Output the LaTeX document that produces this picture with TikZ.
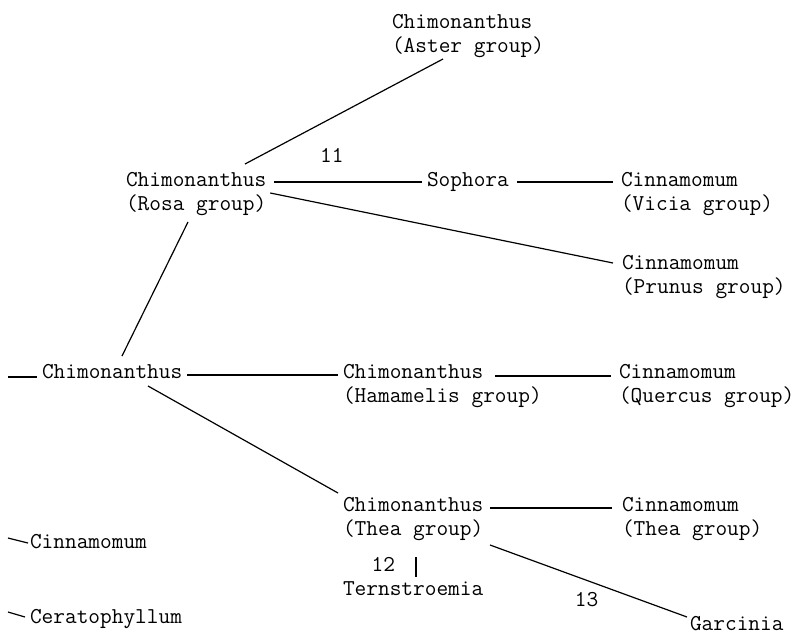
\documentclass[tikz,border=0pt]{standalone}
\usepackage{tikz}
\usetikzlibrary{positioning}

\begin{document}
\begin{tikzpicture}[
			x=1pt, y=-1pt,
			every node/.style={inner sep=0pt, outer sep=0pt, font=\ttfamily\fontsize{22.7}{24}\selectfont},
			taxon/.style={align=left, anchor=base west},
			num/.style={fill=none},
			link/.style={draw, line width=1.2pt}
			]
			\useasboundingbox (0,0) rectangle (800,635);
			% taxa (base = last line)
			\node[taxon] (aster) at (392,52) {Chimonanthus\\(Aster group)};
			\node[taxon] (rosa) at (126,210) {Chimonanthus\\(Rosa group)};
			\node[taxon] (sophora) at (427,186) {Sophora};
			\node[taxon] (vicia) at (621,210) {Cinnamomum\\(Vicia group)};
			\node[taxon] (prunus) at (622,293) {Cinnamomum\\(Prunus group)};
			\node[taxon] (chim) at (42,378) {Chimonanthus};
			\node[taxon] (hamamelis) at (343,402) {Chimonanthus\\(Hamamelis group)};
			\node[taxon] (quercus) at (619,402) {Cinnamomum\\(Quercus group)};
			\node[taxon] (thea) at (343,535) {Chimonanthus\\(Thea group)};
			\node[taxon] (cthea) at (622,535) {Cinnamomum\\(Thea group)};
			\node[taxon] (ternstroemia) at (343,595) {Ternstroemia};
			\node[taxon] (garcinia) at (690,630) {Garcinia};
			\node[taxon] (cinn) at (30,548) {Cinnamomum};
			\node[taxon] (cerato) at (30,623) {Ceratophyllum};
			% free ends on the left
			\coordinate (chimstub) at (8,377);
			\coordinate (cinnstub) at (8,538);
			\coordinate (ceratostub) at (8,612);
			% links
			\draw[link] ([xshift=119pt,yshift=46pt]rosa.base west) -- ([xshift=51pt,yshift=-7pt]aster.base west);
			\draw[link] ([xshift=8pt,yshift=28pt]rosa.base east) -- node[num, pos=0.39, above=20pt] (n11) {11} ([xshift=-5pt,yshift=4pt]sophora.base west);
			\draw[link] ([xshift=8pt,yshift=4pt]sophora.base east) -- ([xshift=-8pt,yshift=28pt]vicia.base west);
			\draw[link] ([xshift=4pt,yshift=17pt]rosa.base east) -- ([xshift=-9pt,yshift=30pt]prunus.base west);
			\draw[link] ([xshift=62pt,yshift=-12pt]rosa.base west) -- ([xshift=80pt,yshift=22pt]chim.base west);
			\draw[link] (chimstub) -- ([xshift=-5pt,yshift=1pt]chim.base west);
			\draw[link] ([xshift=5pt,yshift=3pt]chim.base east) -- ([xshift=-5pt,yshift=27pt]hamamelis.base west);
			\draw[link] ([xshift=152pt,yshift=26pt]hamamelis.base west) -- ([xshift=-8pt,yshift=26pt]quercus.base west);
			\draw[link] ([xshift=106pt,yshift=-8pt]chim.base west) -- ([xshift=-5pt,yshift=42pt]thea.base west);
			\draw[link] ([xshift=7pt,yshift=27pt]thea.base east) -- ([xshift=-10pt,yshift=27pt]cthea.base west);
			\draw[link] ([xshift=73pt,yshift=-22pt]thea.base west) -- node[num, pos=0.35, left=21pt] (n12) {12} ([xshift=73pt,yshift=18pt]ternstroemia.base west);
			\draw[link] ([xshift=147pt,yshift=-10pt]thea.base west) -- node[num, pos=0.49, below=12pt] (n13) {13} ([xshift=-3pt,yshift=13pt]garcinia.base west);
			\draw[link] (cinnstub) -- ([xshift=-2pt,yshift=5pt]cinn.base west);
			\draw[link] (ceratostub) -- ([xshift=-5pt,yshift=6pt]cerato.base west);
		\end{tikzpicture}
\end{document}
